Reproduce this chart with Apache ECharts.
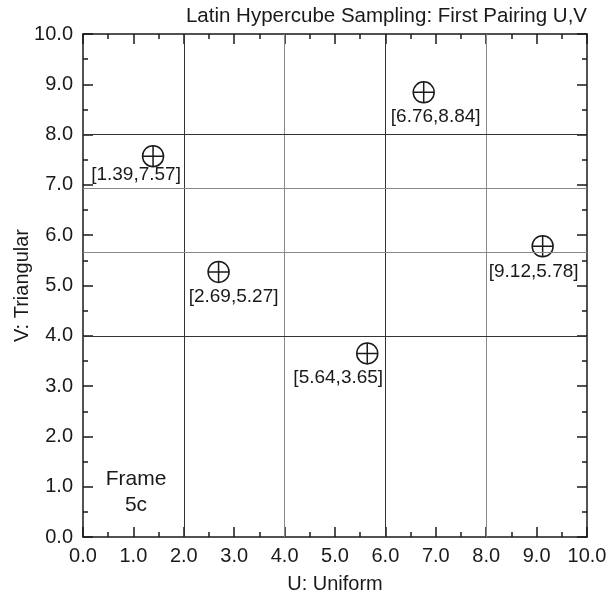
<!DOCTYPE html>
<html><head><meta charset="utf-8">
<script src="https://cdn.jsdelivr.net/npm/echarts@6/dist/echarts.min.js"></script>
<style>html,body{margin:0;padding:0;background:#fff}#c{width:609px;height:603px}</style>
</head><body><div id="c"></div>
<script>
// ---- data ----
const uValues = [1.39, 2.69, 5.64, 6.76, 9.12];
const vValues = [7.57, 5.27, 3.65, 8.84, 5.78];
const uStratBounds = [2, 4, 6, 8];
const vStratBounds = [4.0, 5.66, 6.93, 8.0];
const titleText = 'Latin Hypercube Sampling: First Pairing U,V';
const xName = 'U: Uniform';
const yName = 'V: Triangular';
const frameText = 'Frame\n5c';

// ---- layout / style (not data) ----
const labelOffsets = [[-17, 19], [15, 25], [-29, 24], [12, 24], [-9, 25]];
const uLineColors = ['#333', '#888', '#333', '#888'];
const vLineColors = ['#333', '#888', '#888', '#333'];
const font = 'Liberation Sans, Arial, Helvetica, sans-serif';
const ink = '#1a1a1a';

const chart = echarts.init(document.getElementById('c'), null, {renderer: 'canvas'});

function axisBase(extra) {
  return Object.assign({
    type: 'value', min: 0, max: 10, interval: 1,
    axisLine: {show: true, onZero: false, lineStyle: {color: ink, width: 1.5}},
    axisTick: {show: true, inside: true, length: 10, lineStyle: {color: ink, width: 1.5}},
    minorTick: {show: true, splitNumber: 2, length: 5, lineStyle: {color: ink, width: 1.5}},
    splitLine: {show: false},
    minorSplitLine: {show: false},
    axisLabel: {show: false}
  }, extra);
}

const labelStyle = {
  show: true, color: ink, fontSize: 20, fontFamily: font,
  formatter: v => v.toFixed(1)
};

const points = uValues.map((u, i) => ({
  value: [u, vValues[i]],
  label: {offset: labelOffsets[i]}
}));

const option = {
  animation: false,
  backgroundColor: '#fff',
  title: {
    text: titleText, right: 17, top: 1,
    textStyle: {fontSize: 20.5, fontWeight: 'normal', color: ink, fontFamily: font}
  },
  grid: {left: 83, right: 22, top: 34, bottom: 66, outerBoundsMode: 'none', containLabel: false},
  xAxis: [
    axisBase({position: 'bottom',
      axisLabel: Object.assign({margin: 9, hideOverlap: false}, labelStyle),
      name: xName, nameLocation: 'middle', nameGap: 37, nameMoveOverlap: false,
      nameTextStyle: {fontSize: 20, color: ink, fontFamily: font}}),
    axisBase({position: 'top'})
  ],
  yAxis: [
    axisBase({position: 'left',
      axisLabel: Object.assign({margin: 10, hideOverlap: false}, labelStyle),
      name: yName, nameLocation: 'middle', nameGap: 51, nameMoveOverlap: false,
      nameTextStyle: {fontSize: 20, color: ink, fontFamily: font}}),
    axisBase({position: 'right'})
  ],
  graphic: [{
    type: 'text', left: 104, top: 466, z: 10,
    style: {text: frameText, fill: ink, font: '21px ' + font, textAlign: 'center', lineHeight: 26, width: 64, align: 'center'}
  }],
  series: [{
    type: 'scatter',
    xAxisIndex: 0, yAxisIndex: 0,
    data: points,
    symbol: 'path://M10,0A10,10,0,1,1,-10,0A10,10,0,1,1,10,0ZM-10,0L10,0M0,-10L0,10',
    symbolSize: 21,
    itemStyle: {color: 'rgba(0,0,0,0)', borderColor: ink, borderWidth: 1.5, opacity: 1},
    label: {
      show: true, position: 'inside', color: ink, fontSize: 19, fontFamily: font,
      formatter: p => '[' + p.value[0].toFixed(2) + ',' + p.value[1].toFixed(2) + ']'
    },
    emphasis: {disabled: true},
    markLine: {
      silent: true, symbol: ['none', 'none'], animation: false,
      label: {show: false},
      lineStyle: {type: 'solid', width: 1},
      data: uStratBounds.map((x, i) => ({xAxis: x, lineStyle: {color: uLineColors[i], type: 'solid', width: 1}}))
        .concat(vStratBounds.map((y, i) => ({yAxis: y, lineStyle: {color: vLineColors[i], type: 'solid', width: 1}})))
    }
  }]
};
chart.setOption(option);
</script>
</body></html>
